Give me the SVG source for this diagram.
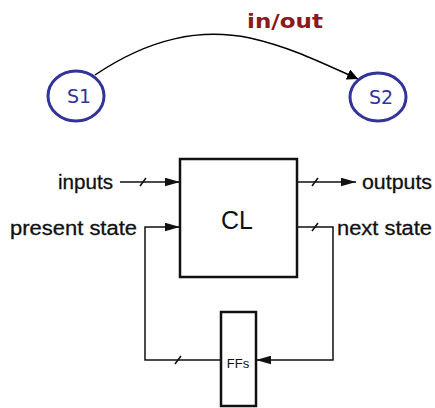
<svg xmlns="http://www.w3.org/2000/svg" width="435" height="408" viewBox="0 0 435 408">
<style>
.st{fill:none;stroke:#333399;stroke-width:3}
.stt{font-family:"DejaVu Sans",Verdana,sans-serif;font-size:19px;fill:#333399;text-anchor:middle}
.ln{fill:none;stroke:#111;stroke-width:1.5}
.bx{fill:#fff;stroke:#111;stroke-width:2.5}
.lb{font-family:"Liberation Sans",Arial,sans-serif;font-size:20px;fill:#111;stroke:#111;stroke-width:0.3}
</style>
<defs>
<marker id="a1" viewBox="0 0 10 10" refX="10" refY="5" markerWidth="11" markerHeight="11" markerUnits="userSpaceOnUse" orient="auto"><path d="M0,0L10,5L0,10z" fill="#000"/></marker>
<marker id="a2" viewBox="0 0 14 8" refX="14" refY="4" markerWidth="15" markerHeight="9" markerUnits="userSpaceOnUse" orient="auto"><path d="M0,0L14,4L0,8z" fill="#111"/></marker>
</defs>
<g id="connectors">
<path d="M95,75 C150,38 200,28 250,38 C290,47 320,62 358,79" fill="none" stroke="#000" stroke-width="1.5" marker-end="url(#a1)"/>
<text x="285" y="28" font-family="DejaVu Sans,Verdana,sans-serif" font-weight="bold" font-size="20" fill="#8B1A1A" text-anchor="middle" textLength="76" lengthAdjust="spacingAndGlyphs">in/out</text>
<line class="ln" x1="120" y1="182" x2="180" y2="182" marker-end="url(#a2)"/>
<line class="ln" x1="140" y1="186" x2="146" y2="178"/>
<line class="ln" x1="297" y1="182" x2="356" y2="182" marker-end="url(#a2)"/>
<line class="ln" x1="312" y1="186" x2="318" y2="178"/>
<path class="ln" d="M220,360 H145 V227 H180" marker-end="url(#a2)"/>
<line class="ln" x1="175" y1="364" x2="181" y2="356"/>
<path class="ln" d="M297,227 H333 V360 H256" marker-end="url(#a2)"/>
<line class="ln" x1="312" y1="231" x2="318" y2="223"/>
</g>
<g id="S1"><ellipse class="st" cx="76" cy="96" rx="28" ry="25"/><text class="stt" x="79" y="103">S1</text></g>
<g id="S2"><ellipse class="st" cx="378" cy="97" rx="28" ry="24"/><text class="stt" x="381" y="104">S2</text></g>
<g id="CL"><rect class="bx" x="180" y="159" width="117" height="118"/><text x="237" y="229" font-family="Liberation Sans,Arial,sans-serif" font-size="25" fill="#111" text-anchor="middle">CL</text></g>
<g id="FFs"><rect class="bx" x="221" y="312" width="35" height="94"/><text x="238" y="368" font-family="Liberation Sans,Arial,sans-serif" font-size="13" fill="#111" text-anchor="middle">FFs</text></g>
<g id="labels">
<text class="lb" x="58" y="189" textLength="55" lengthAdjust="spacingAndGlyphs">inputs</text>
<text class="lb" x="362" y="189" textLength="70" lengthAdjust="spacingAndGlyphs">outputs</text>
<text class="lb" x="10" y="235" textLength="127" lengthAdjust="spacingAndGlyphs">present state</text>
<text class="lb" x="337" y="235" textLength="95" lengthAdjust="spacingAndGlyphs">next state</text>
</g>
</svg>
